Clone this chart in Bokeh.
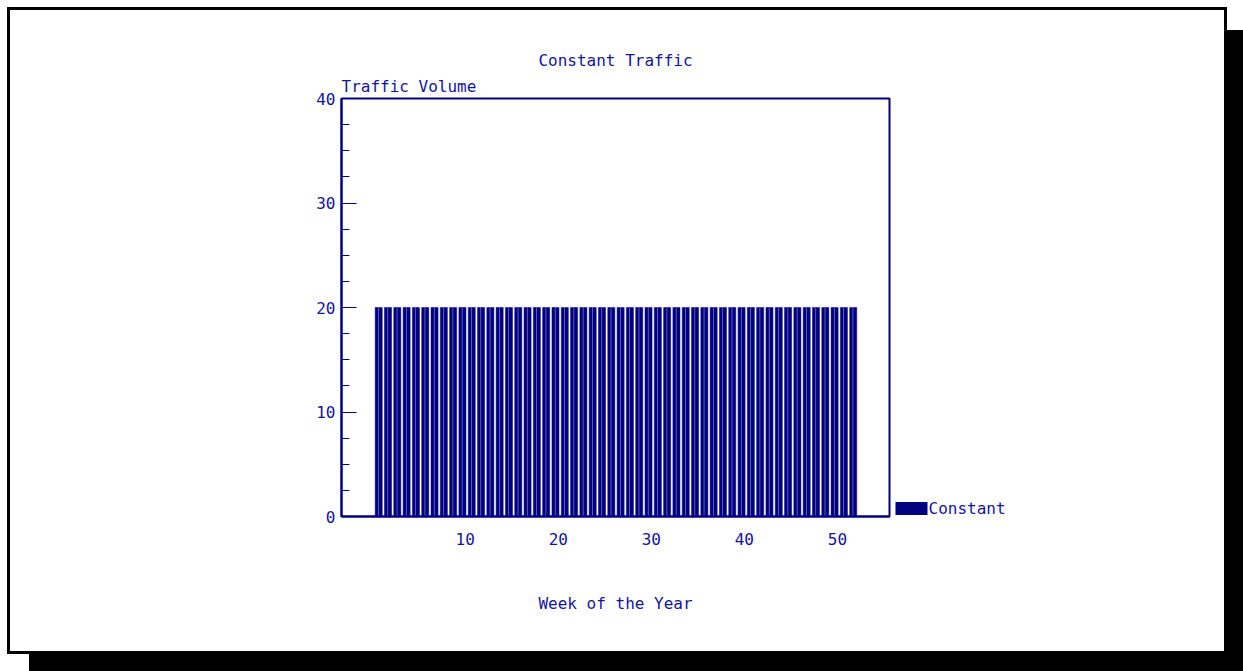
from bokeh.plotting import figure
from bokeh.models import (Range1d, FixedTicker, SingleIntervalTicker, Title, LinearAxis,
                          ColumnDataSource)
from bokeh.transform import dodge
from bokeh.embed import file_html
from bokeh.resources import INLINE

# ---- data ----
weeks = list(range(1, 53))
traffic = [20] * 52
series_name = "Constant"
title_text = "Constant Traffic"
y_title = "Traffic Volume"
x_title = "Week of the Year"
x_ticks = [10, 20, 30, 40, 50]
legend_y = 0.8  # level at which the legend key sits, in traffic units

NAVY = "#000080"
TEXT = "#14149a"
FONT = "DejaVu Sans Mono"

src = ColumnDataSource(dict(week=weeks, value=traffic))

p = figure(width=1220, height=647, output_backend="svg", toolbar_location=None,
           x_range=Range1d(-3.3, 55.6), y_range=Range1d(0, 40),
           min_border_left=334, min_border_right=338, min_border_top=91, min_border_bottom=138)
p.margin = (7, 0, 0, 7)
p.styles = {"background-color": "white",
            "box-shadow": "inset 0 0 0 3px black, 22px 23px 0 0 black"}
p.title.visible = False
p.xgrid.grid_line_color = None
p.ygrid.grid_line_color = None
p.outline_line_color = NAVY
p.outline_line_width = 2
p.background_fill_color = "white"
p.border_fill_alpha = 0

bars = p.vbar(x=dodge("week", -0.3, range=p.x_range), top="value", bottom=0, width=0.76,
              source=src, fill_color=NAVY, line_color=NAVY, line_width=0.5)
p.vbar(x=dodge("week", -0.33, range=p.x_range), top="value", bottom=0, width=0.08,
       source=src, fill_color="#7a7ac4", line_color=None)

# axes
yax = p.yaxis[0]
yax.ticker = SingleIntervalTicker(interval=10, num_minor_ticks=4)
yax.axis_line_color = NAVY
yax.axis_line_width = 2
yax.major_tick_in = 15
yax.major_tick_out = 0
yax.minor_tick_in = 8
yax.minor_tick_out = 0
yax.major_tick_line_color = NAVY
yax.minor_tick_line_color = NAVY
yax.major_label_text_font = FONT
yax.major_label_text_font_size = "16px"
yax.major_label_text_color = TEXT
yax.major_label_standoff = 6

xax = p.xaxis[0]
xax.ticker = FixedTicker(ticks=x_ticks)
xax.axis_line_color = NAVY
xax.axis_line_width = 2
xax.major_tick_in = 0
xax.major_tick_out = 0
xax.minor_tick_line_color = None
xax.major_label_text_font = FONT
xax.major_label_text_font_size = "16px"
xax.major_label_text_color = TEXT
xax.major_label_standoff = 16
xax.axis_label = x_title
xax.axis_label_text_font = FONT
xax.axis_label_text_font_size = "16px"
xax.axis_label_text_font_style = "normal"
xax.axis_label_text_color = TEXT
xax.axis_label_standoff = 46

# legend key: a right-hand axis with one thick tick and the series name as its label
key_axis = LinearAxis(ticker=FixedTicker(ticks=[legend_y]),
                      major_label_overrides={legend_y: series_name})
key_axis.axis_line_color = None
key_axis.minor_tick_line_color = None
key_axis.major_tick_in = -6
key_axis.major_tick_out = 38
key_axis.major_tick_line_width = 13
key_axis.major_tick_line_cap = "butt"
key_axis.major_tick_line_color = NAVY
key_axis.major_label_standoff = 1
key_axis.major_label_text_font = FONT
key_axis.major_label_text_font_size = "16px"
key_axis.major_label_text_color = TEXT
p.add_layout(key_axis, "right")

# titles (first added sits closest to the frame)
p.add_layout(Title(text=y_title, align="left", text_font=FONT, text_font_size="16px",
                   text_font_style="normal", text_color=TEXT, standoff=5), "above")
p.add_layout(Title(text=title_text, align="center", text_font=FONT, text_font_size="16px",
                   text_font_style="normal", text_color=TEXT, standoff=5), "above")

open("out.html", "w").write(file_html(p, INLINE))
